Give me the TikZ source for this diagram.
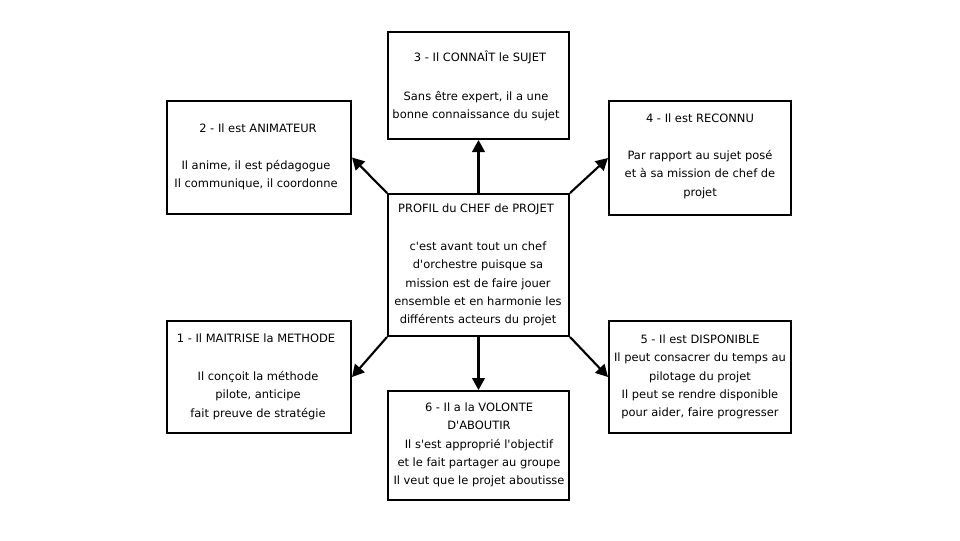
\documentclass[tikz,border=0pt]{standalone}
\usepackage{fontspec}
\setmainfont{DejaVu Sans}[Ligatures=TeXOff]
\usetikzlibrary{fit,arrows.meta}
\begin{document}
\begin{tikzpicture}[x=0.75pt,y=-0.75pt,
  box/.style={draw=black,line width=1.5pt,inner sep=0pt,rectangle},
  txt/.style={inner sep=0pt,anchor=base,align=center,font=\fontsize{8.6}{13.7}\selectfont},
  arr/.style={line width=1.6pt,-{Triangle[length=9pt,width=9.5pt]}}]
\useasboundingbox[fill=white] (0,0) rectangle (960,540);
% boxes
\node[box,fit={(388,32) (569,139)}] (b3) {};
\node[box,fit={(167,101) (351,214)}] (b2) {};
\node[box,fit={(388,194) (569,336)}] (c) {};
\node[box,fit={(609,101) (791,215)}] (b4) {};
\node[box,fit={(167,321) (351,433)}] (b1) {};
\node[box,fit={(388,391) (569,500)}] (b6) {};
\node[box,fit={(609,321) (791,433)}] (b5) {};
% texts (anchor base = baseline of the last line)
\node[txt] (t3) at (480,61.5) {3 - Il CONNAÎT le SUJET};
\node[txt] (t3b) at (476,118.8) {Sans être expert, il a une\\bonne connaissance du sujet};
\node[txt] (t2) at (258,132.5) {2 - Il est ANIMATEUR};
\node[txt] (t2b) at (256,187.8) {Il anime, il est pédagogue\\Il communique, il coordonne};
\node[txt] (t4) at (700,122.5) {4 - Il est RECONNU};
\node[txt] (t4b) at (700,196) {Par rapport au sujet posé\\et à sa mission de chef de\\projet};
\node[txt] (tc) at (476,212.5) {PROFIL du CHEF de PROJET};
\node[txt] (tcb) at (478,323.6) {c'est avant tout un chef\\d'orchestre puisque sa\\mission est de faire jouer\\ensemble et en harmonie les\\différents acteurs du projet};
\node[txt] (t1) at (256,342.5) {1 - Il MAITRISE la METHODE};
\node[txt] (t1b) at (258,417) {Il conçoit la méthode\\pilote, anticipe\\fait preuve de stratégie};
\node[txt] (t6) at (479,484.6) {6 - Il a la VOLONTE\\D'ABOUTIR\\Il s'est approprié l'objectif\\et le fait partager au groupe\\Il veut que le projet aboutisse};
\node[txt] (t5) at (700,416.6) {5 - Il est DISPONIBLE\\Il peut consacrer du temps au\\pilotage du projet\\Il peut se rendre disponible\\pour aider, faire progresser};
% arrows
\draw[arr] (c.north west) -- (b2.east);
\draw[arr] (c.north) -- (b3.south);
\draw[arr] (c.north east) -- (b4.west);
\draw[arr] (c.south west) -- (b1.east);
\draw[arr] (c.south) -- (b6.north);
\draw[arr] (c.south east) -- (b5.west);
\end{tikzpicture}
\end{document}
